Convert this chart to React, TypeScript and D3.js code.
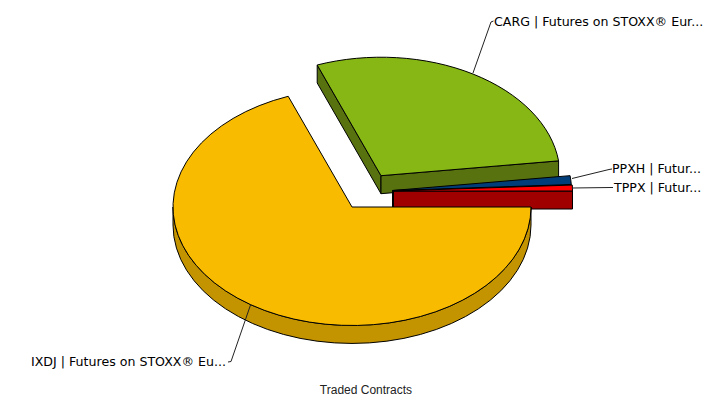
import React from "react";
import * as d3 from "d3";

const names = ["IXDJ", "CARG", "PPXH", "TPPX"];
const values = [69.2, 28.8, 1.2, 0.8];
const labels = [
  "IXDJ | Futures on STOXX® Eu...",
  "CARG | Futures on STOXX® Eur...",
  "PPXH | Futur...",
  "TPPX | Futur...",
];
const topColors = ["#F9BB00", "#86B715", "#003D79", "#FF0000"];
const sideColors = ["#C49300", "#587210", "#002F5E", "#A00000"];
const offsets = [[0, 0], [29, -31.3], [40.5, -16.5], [41.5, -16]];
const drawOrder = [1, 2, 3, 0];
const leaders = [
  [[250.5, 305], [231, 361.5], [228, 362]],
  [[473, 73], [491, 22], [493.5, 21]],
  [[572, 178.5], [609, 169.5], [612, 169]],
  [[572, 188], [611, 187.5], [613, 187.5]],
];
const labelPos: [number, number, string][] = [
  [226, 362.5, "end"],
  [494, 22, "start"],
  [612, 169.5, "start"],
  [614, 188, "start"],
];

const CX = 352, CY = 207, RX = 179, RY = 118.5, DEPTH = 18;

function ell(cx: number, cy: number, t: number, dz = 0): [number, number] {
  return [cx + RX * Math.cos(t), cy + RY * Math.sin(t) + dz];
}
function arcTo(p: [number, number], large: boolean) {
  return `A${RX},${RY} 0 ${large ? 1 : 0} 1 ${p[0]},${p[1]}`;
}

export default function App() {
  const arcs = d3.pie<number>().sort(null).startAngle(0).endAngle(2 * Math.PI)(values);
  return (
    <svg
      width={721}
      height={399}
      style={{ position: "absolute", left: 0, top: 0, background: "#fff" }}
    >
      {drawOrder.map((i) => {
        const a = arcs[i];
        const cx = CX + offsets[i][0];
        const cy = CY + offsets[i][1];
        const s = a.startAngle, e = a.endAngle;
        const p0 = ell(cx, cy, s), p1 = ell(cx, cy, e);
        const large = e - s > Math.PI;
        const top = `M${cx},${cy}L${p0[0]},${p0[1]}${arcTo(p1, large)}Z`;
        const sides: string[] = [];
        // outer wall: the part of the rim facing the viewer (0..PI)
        const ws = Math.max(s, 0), we = Math.min(e, Math.PI);
        if (we > ws) {
          const w0 = ell(cx, cy, ws), w1 = ell(cx, cy, we);
          const b0 = ell(cx, cy, ws, DEPTH), b1 = ell(cx, cy, we, DEPTH);
          sides.push(
            `M${w0[0]},${w0[1]}${arcTo(w1, false)}L${b1[0]},${b1[1]}` +
              `A${RX},${RY} 0 0 0 ${b0[0]},${b0[1]}Z`
          );
        }
        // radial cut faces that look towards the viewer
        const face = (p: [number, number]) =>
          `M${cx},${cy}L${p[0]},${p[1]}L${p[0]},${p[1] + DEPTH}L${cx},${cy + DEPTH}Z`;
        if (i === 1) sides.push(face(p0));
        if (i !== 0) sides.push(face(p1));
        return (
          <g key={names[i]} stroke="#000" strokeWidth={1} strokeLinejoin="round">
            {sides.map((d, k) => (
              <path key={k} d={d} fill={sideColors[i]} />
            ))}
            <path d={top} fill={topColors[i]} />
          </g>
        );
      })}
      {leaders.map((l, i) => (
        <path
          key={i}
          d={d3.line()(l as [number, number][]) as string}
          fill="none"
          stroke="#222"
          strokeWidth={1}
        />
      ))}
      {labels.map((t, i) => (
        <text
          key={t}
          x={labelPos[i][0]}
          y={labelPos[i][1]}
          textAnchor={labelPos[i][2] as "start" | "end"}
          dominantBaseline="middle"
          fontFamily="'DejaVu Sans', Verdana, sans-serif"
          fontSize={12.6}
          fill="#000"
        >
          {t}
        </text>
      ))}
      <text
        x={366}
        y={394}
        textAnchor="middle"
        fontFamily="'Liberation Sans', Arial, sans-serif"
        fontSize={12}
        fill="#222"
      >
        Traded Contracts
      </text>
    </svg>
  );
}
